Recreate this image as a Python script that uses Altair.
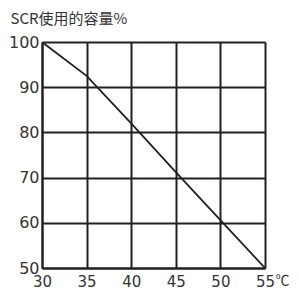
import altair as alt
import pandas as pd

temps = [30, 35, 40, 45, 50, 55]
capacity = [100, 92.5, 82, 71.2, 60.6, 50]
x_ticks = [30, 35, 40, 45, 50, 55]
y_ticks = [50, 60, 70, 80, 90, 100]

df = pd.DataFrame({"t": temps, "c": capacity})

INK = "#231f20"

chart = alt.Chart(df).mark_line(color=INK, strokeWidth=1.8, clip=True).encode(
    x=alt.X("t:Q", scale=alt.Scale(domain=[30, 55], nice=False, zero=False),
            axis=alt.Axis(values=x_ticks, grid=True, gridColor=INK, gridWidth=2,
                          gridOpacity=1, domainColor=INK, domainWidth=2,
                          ticks=False, labelPadding=6, labelFontSize=15,
                          labelFont="DejaVu Sans", labelColor="#333",
                          labelFlush=False,
                          title="℃", titleFontSize=14, titleFont="Noto Sans CJK SC",
                          titleFontWeight="normal", titleColor="#333",
                          titleX=240, titleY=12, titleAlign="center",
                          titleBaseline="middle")),
    y=alt.Y("c:Q", scale=alt.Scale(domain=[50, 100], nice=False, zero=False),
            axis=alt.Axis(values=y_ticks, grid=True, gridColor=INK, gridWidth=2,
                          gridOpacity=1, domainColor=INK, domainWidth=2,
                          ticks=False, labelPadding=3, labelFontSize=16,
                          labelFont="DejaVu Sans", labelColor="#333",
                          labelFlush=False,
                          title="SCR使用的容量%", titleFontSize=15,
                          titleFont="Noto Sans CJK SC", titleFontWeight="normal",
                          titleColor="#333", titleAngle=0, titleAlign="left",
                          titleBaseline="middle", titleX=-32, titleY=-24)),
).properties(
    width=223, height=226,
    autosize=alt.AutoSizeParams(type="none"),
    padding={"left": 34, "top": 34, "right": 26, "bottom": 21},
).configure_view(stroke=INK, strokeWidth=2).configure(background="white")

chart.save("out.html", embed_options={"renderer": "svg", "actions": False})
